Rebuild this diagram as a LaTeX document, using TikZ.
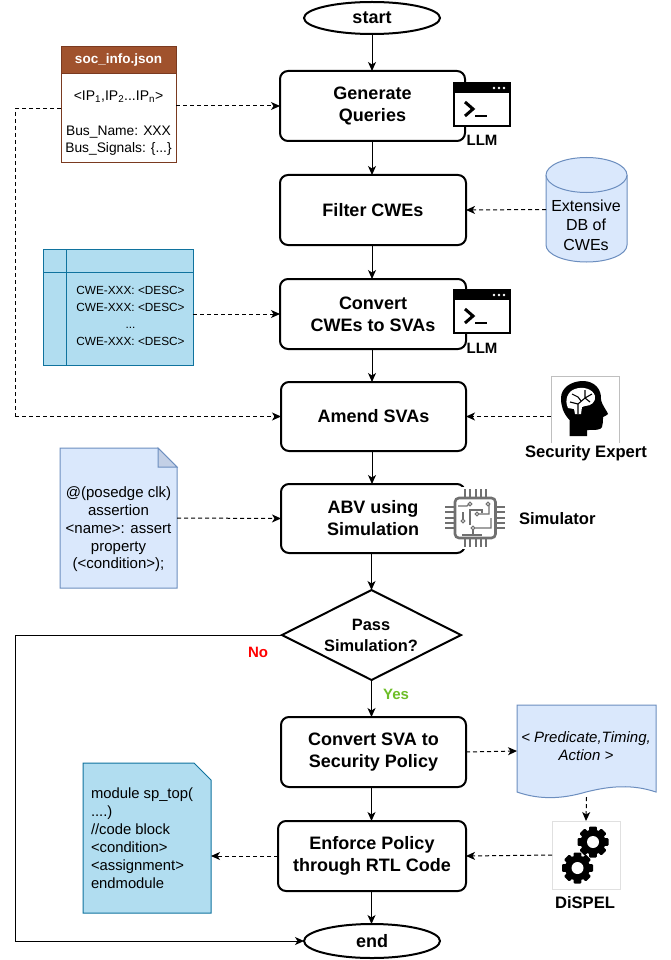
\documentclass[tikz,border=0pt]{standalone}
\usepackage{fontspec}
\setmainfont{Liberation Sans}
\usetikzlibrary{arrows.meta,shapes.geometric,calc}
\definecolor{paleblue}{HTML}{DAE8FC}
\definecolor{paleline}{HTML}{6C8EBF}
\definecolor{foldblue}{HTML}{C3D0E6}
\definecolor{skyfill}{HTML}{B1DDF0}
\definecolor{skyline}{HTML}{10739E}
\definecolor{rust}{HTML}{A0522D}
\definecolor{rustline}{HTML}{7A3A20}
\definecolor{chipgray}{HTML}{707070}
\definecolor{yesgreen}{HTML}{6EBE28}
\newcommand{\fs}[2]{\fontsize{#1}{#2}\selectfont}
\tikzset{
  x=1pt,y=-1pt,
  every node/.style={inner sep=0pt,outer sep=0pt,align=center},
  proc/.style={draw=black,line width=2pt,rounded corners=8pt,fill=white,font=\fs{18}{22}\bfseries},
  term/.style={draw=black,line width=2pt,ellipse,fill=white,font=\fs{18}{22}\bfseries},
  flow/.style={line width=1pt,-{Stealth[length=9pt,width=8pt,inset=2.5pt]}},
  plainline/.style={line width=1pt},
  dashflow/.style={line width=1pt,dash pattern=on 4pt off 3pt,-{Stealth[length=9pt,width=8pt,inset=2.5pt]}},
  dashplain/.style={line width=1pt,dash pattern=on 4pt off 3pt},
  blueshape/.style={draw=paleline,fill=paleblue,line width=1pt},
  skyshape/.style={draw=skyline,fill=skyfill,line width=1pt},
  caption/.style={font=\fs{16.6}{20}\bfseries},
  pin/.style={draw=chipgray,line width=2pt},
  trace/.style={draw=chipgray,line width=1.1pt},
}
\begin{document}
\begin{tikzpicture}
\useasboundingbox (0,0) rectangle (670,960);
\fill[white] (0,0) rectangle (670,960);

% process column
\node[term,minimum width=136,minimum height=32] (start) at (372,18) {\raisebox{-1pt}{start}};
\node[proc,minimum width=185,minimum height=70] (gen) at (372.5,106) {Generate\\Queries};
\node[proc,minimum width=186,minimum height=70] (filt) at (373,210) {Filter CWEs};
\node[proc,minimum width=186,minimum height=70] (conv) at (373,314) {Convert\\CWEs to SVAs};
\node[proc,minimum width=185,minimum height=69] (amend) at (373.5,416.5) {Amend SVAs};
\node[proc,minimum width=184,minimum height=69] (abv) at (373,518.5) {ABV using\\Simulation};
\node[draw=black,line width=2pt,diamond,aspect=2,fill=white,minimum width=179,minimum height=90] (pass) at (371.5,635) {};
\node[font=\fs{16.4}{21}\bfseries] (passtext) at (371,635.5) {Pass\\Simulation?};
\node[proc,minimum width=185,minimum height=70] (svasp) at (373.5,752) {Convert SVA to\\Security Policy};
\node[proc,minimum width=188,minimum height=70] (enf) at (372,856) {Enforce Policy\\through RTL Code};
\node[term,minimum width=136,minimum height=34] (end) at (372,941) {end};

\draw[flow] (start) -- (gen.north -| start);
\draw[flow] (gen.south -| start) -- (filt.north -| start);
\draw[flow] (filt.south -| start) -- (conv.north -| start);
\draw[flow] (conv.south -| start) -- (amend.north -| start);
\draw[flow] (amend.south -| start) -- (abv.north -| start);
\draw[flow] (abv.south -| pass) -- (pass.north);
\draw[flow] (pass.south) -- (svasp.north -| pass);
\draw[flow] (svasp.south -| pass) -- (enf.north -| pass);
\draw[flow] (enf.south -| pass) -- (end.north -| pass);
\coordinate (noturn) at (15,635);
\coordinate (noend) at (15,941);
\draw[plainline] (pass.west) -- (noturn) -- (noend);
\draw[flow] (noend) -- (end.west);
\node[font=\fs{15}{18}\bfseries,text=red] (nolabel) at (258,652) {No};
\node[font=\fs{15}{18}\bfseries,text=yesgreen] (yeslabel) at (396,694) {Yes};

% soc_info.json
\node[draw=rustline,fill=white,line width=1pt,minimum width=115,minimum height=115] (soc) at (118.5,105.5) {};
\node[draw=rustline,fill=rust,line width=1pt,minimum width=115,minimum height=27,text=white,font=\fs{13.5}{16}\bfseries] (sochead) at (118.5,60.5) {soc\_info.json};
\node[font=\fs{14}{17}] (socip) at (118.5,97) {<IP\textsubscript{1},IP\textsubscript{2}...IP\textsubscript{n}>};
\node[font=\fs{13.8}{17}] (socbus) at (118.5,140.5) {Bus\_Name: XXX\\Bus\_Signals: \{...\}};
\coordinate (soctap) at (61,109);
\coordinate (loopa) at (15,109);
\coordinate (loopb) at (15,416.5);
\draw[dashflow] (soc.east |- gen.west) -- (gen.west);
\draw[dashplain] (soctap) -- (loopa) -- (loopb);
\draw[dashflow] (loopb) -- (amend.west);

% CWE table
\node[skyshape,minimum width=150,minimum height=116] (table) at (118,307) {};
\draw[draw=skyline,line width=1pt] (43,272) -- (193,272) (66,249) -- (66,365);
\node[font=\fs{11.8}{17.2}] (tabletext) at (130.5,316) {CWE-XXX: <DESC>\\CWE-XXX: <DESC>\\...\\CWE-XXX: <DESC>};
\draw[dashflow] (table.east |- conv.west) -- (conv.west);

% DB cylinder
\node[minimum width=81,minimum height=105] (db) at (586.5,209.5) {};
\draw[blueshape] (546,175) -- (546,245) arc[start angle=180,end angle=0,x radius=40.5,y radius=17] -- (627,175) arc[start angle=0,end angle=-180,x radius=40.5,y radius=17.5] -- cycle;
\draw[blueshape] (546,175) arc[start angle=180,end angle=0,x radius=40.5,y radius=17.5];
\node[font=\fs{16}{19.5}] (dbtext) at (586,225) {Extensive\\DB of\\CWEs};
\draw[dashflow] (db.west) -- (filt.east);

% LLM icons
\foreach \n/\ty in {a/83,b/290}{
  \begin{scope}[yshift=-\ty pt]
    \node[draw=black,fill=white,line width=2.8pt,minimum width=56,minimum height=43] (llm\n) at (482,21.5) {};
    \fill[black] (454,0) rectangle (510,10);
    \fill[white] (494,5) circle (1.3) (499,5) circle (1.3) (504,5) circle (1.3);
    \draw[black,line width=3pt] (465,19) -- (473,26) -- (465,33);
    \draw[black,line width=2.6pt] (475,33) -- (487,33);
  \end{scope}
}
\node[font=\fs{15}{18}\bfseries] (llmtexta) at (482,140) {LLM};
\node[font=\fs{15}{18}\bfseries] (llmtextb) at (482,348) {LLM};

% security expert
\node[minimum width=68,minimum height=67] (expert) at (585,409.5) {};
\draw[black!25,line width=0.6pt] (551,443) -- (551,376) -- (619,376) -- (619,443);
\fill[black] (569.5,436) -- (569.5,420) .. controls (563,413) and (561,406) .. (561,398)
  .. controls (561,388) and (571,381) .. (583,381) .. controls (594,381) and (602,389) .. (601,400)
  .. controls (602,405) and (607,411) .. (608,414) .. controls (607,416) and (604,416) .. (603,417)
  .. controls (603,421) and (603,424) .. (602,427) .. controls (601,430) and (596,430) .. (587,430) -- (587,436) -- cycle;
\fill[white] (568,408) .. controls (564,400) and (568,391) .. (575,389) .. controls (583,386) and (593,389) .. (595,396)
  .. controls (596,402) and (591,406) .. (585,406) -- (582,407) -- (581,414) -- (575,414) -- (574,409) -- cycle;
\draw[black,line width=1.1pt] (578,414) -- (578,404) -- (585,398) -- (592,394) (585,398) -- (585,390) (578,404) -- (570,402) (578,397) -- (581,401) (578,397) -- (572,394) (590,402) -- (585,398);
\node[caption] (experttext) at (586,453) {Security Expert};
\draw[dashflow] (expert.west |- amend.east) -- (amend.east);

% simulator chip
\node[fill=white,minimum width=60,minimum height=62] (chip) at (475,518) {};
\draw[chipgray,line width=2.6pt,rounded corners=4pt] (455,498) rectangle (495.5,538);
\foreach \k in {0,...,4}{
  \draw[pin] ({465+5.3*\k},489) -- ({465+5.3*\k},497);
  \draw[pin] ({465+5.3*\k},538) -- ({465+5.3*\k},547);
  \draw[pin] (445,{507+5.3*\k}) -- (454,{507+5.3*\k});
  \draw[pin] (496,{507+5.3*\k}) -- (505,{507+5.3*\k});
}
\draw[trace] (458,506) -- (467,506) -- (469,504);
\draw[trace] (470,504) circle (1.8);
\draw[trace] (463,512) -- (463,519);
\draw[trace] (463,521) circle (1.8);
\draw[trace] (470,525) -- (470,510) -- (482,510) -- (482,513);
\draw[trace] (477,514) circle (1.8) (479,514) -- (489,514) -- (489,505);
\draw[trace] (488,504) circle (1.8);
\draw[trace] (473,534) -- (473,530);
\draw[trace] (473,528) circle (1.8) (475,528) -- (491,528) -- (491,518);
\draw[trace] (462,535) -- (482,535);
\node[caption,anchor=west] (simtext) at (519,519) {Simulator};

% assertion note
\node[minimum width=117,minimum height=140] (note) at (118.5,518) {};
\draw[blueshape] (60,448) -- (158,448) -- (177,467) -- (177,588) -- (60,588) -- cycle;
\draw[blueshape,fill=foldblue] (158,448) -- (158,467) -- (177,467) -- cycle;
\node[font=\fs{15}{17.8}] (notetext) at (118.5,529.5) {@(posedge clk)\\assertion\\<name>: assert\\property\\(<condition>);};
\draw[dashflow] (note.east) -- (abv.west);

% policy document
\node[minimum width=139,minimum height=92] (policy) at (586.5,751) {};
\draw[blueshape] (517,705) -- (656,705) -- (656,792) .. controls (632,784) and (610,786) .. (586,792) .. controls (562,799) and (540,800) .. (517,792) -- cycle;
\node[font=\fs{15}{18}\itshape] (policytext) at (586,746) {< Predicate,Timing,\\Action >};
\draw[dashflow] (svasp.east) -- (policy.west);

% DiSPEL
\node[minimum width=68,minimum height=68] (dispel) at (586,855) {};
\draw[black!12,line width=0.6pt] (552,821) rectangle (620,889);
\foreach \cx/\cy in {593/842,577.5/868}{
  \foreach \a in {0,45,...,315}{
    \fill[black,rounded corners=1pt,rotate around={\a:(\cx,\cy)}] ({\cx-3.8},{\cy-15.5}) rectangle ({\cx+3.8},{\cy-9});
  }
  \fill[black] (\cx,\cy) circle (12.5);
  \fill[white] (\cx,\cy) circle (6);
}
\node[caption] (dispeltext) at (585,903) {DiSPEL};
\draw[dashflow] (policy.south) -- (dispel.north);
\draw[dashflow] (dispel.west) -- (enf.east);

% code card
\node[minimum width=128,minimum height=150] (code) at (147,838) {};
\draw[skyshape] (83,763) -- (194,763) -- (211,780) -- (211,913) -- (83,913) -- cycle;
\node[font=\fs{14.8}{18},anchor=west,align=left] (codetext) at (91,838) {module sp\_top(\\....)\\//code block\\<condition>\\<assignment>\\endmodule};
\draw[dashflow] (enf.west) -- (enf.west -| code.east);
\end{tikzpicture}
\end{document}
